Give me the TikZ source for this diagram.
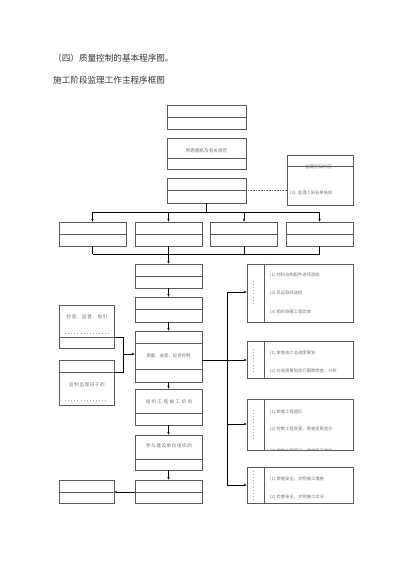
\documentclass[tikz,border=0pt]{standalone}
\usepackage{fontspec}
\setmainfont{Noto Sans CJK SC}
\newfontfamily\cjkwide[LetterSpace=30]{Noto Sans CJK SC}
\newfontfamily\cjkmid[LetterSpace=12]{Noto Sans CJK SC}
\usetikzlibrary{arrows.meta}

\tikzset{
  box/.style={draw=black!65, line width=0.7pt, inner sep=0pt},
  divline/.style={draw=black!65, line width=0.7pt},
  link/.style={draw=black, line width=0.6pt},
  arr/.style={link, -{Stealth[length=2.8pt,width=2.4pt]}},
  dotlink/.style={draw=black!60, line width=0.9pt, dash pattern=on 0.8pt off 0.8pt},
  boxtext/.style={text=black!55, inner sep=0pt, font=\fontsize{4.6}{5}\selectfont},
  listtext/.style={boxtext, anchor=west, font=\fontsize{4.3}{5}\selectfont},
  cuttext/.style={draw=black!35, line width=0.8pt, dash pattern=on 0.9pt off 2.2pt},
  titletext/.style={anchor=west, inner sep=0pt, font=\fontsize{8.6}{10}\selectfont, text=black!80}
}
% split line across a box at height y
\newcommand{\splitat}[2]{\draw[divline] (#1.west |- 0,#2) -- (#1.east |- 0,#2);}

\begin{document}
\begin{tikzpicture}[x=1pt,y=1pt,yscale=-1,xscale=1]
\useasboundingbox (0,0) rectangle (400,566);

% Titles
\node[titletext] (head) at (53,58) {（四）质量控制的基本程序图。};
\node[titletext] (sub) at (53,80) {施工阶段监理工作主程序框图};

% Upper main column
\node[box, minimum width=79, minimum height=24] (start) at (206.5,117) {};
\splitat{start}{117}
\node[box, minimum width=79, minimum height=31] (drawings) at (206.5,153.5) {};
\splitat{drawings}{158}
\node[boxtext] (drawingstext) at (206.5,151) {熟悉图纸及有关规范};
\node[box, minimum width=79, minimum height=25] (notify) at (206.5,190.5) {};
\splitat{notify}{190}

% Notice box on the right
\node[box, minimum width=66, minimum height=50] (notice) at (320,180) {};
\splitat{notice}{166}
\node[boxtext, font=\fontsize{4.4}{5}\selectfont] (noticehead) at (318.5,167) {监理告知内容};
\node[listtext] (noticeitem) at (290,193) {(3). 监理人员名单告知};
\draw[dotlink] (notify.east |- 0,190) -- (notice.west |- 0,190);

% Four parallel boxes
\node[box, minimum width=67, minimum height=24] (pa) at (92.5,234) {};
\node[box, minimum width=67, minimum height=24] (pb) at (168.5,234) {};
\node[box, minimum width=67, minimum height=24] (pc) at (244,234) {};
\node[box, minimum width=67, minimum height=24] (pd) at (319.5,234) {};
\foreach \p in {pa,pb,pc,pd} {\splitat{\p}{234}}

\coordinate (forktop) at (206.5,212);
\draw[link] (notify.south) -- (forktop);
\draw[link] (pa.north |- forktop) -- (pd.north |- forktop);
\foreach \p in {pa,pb,pc,pd} {\draw[arr] (\p.north |- forktop) -- (\p.north);}
\coordinate (forkbot) at (168.5,254);
\foreach \p in {pa,pb,pc,pd} {\draw[link] (\p.south) -- (\p.south |- forkbot);}
\draw[link] (pa.south |- forkbot) -- (pd.south |- forkbot);

% Lower main column
\node[box, minimum width=67, minimum height=24] (la) at (168.5,276) {};
\splitat{la}{276}
\node[box, minimum width=67, minimum height=25] (lb) at (168.5,309.5) {};
\splitat{lb}{309}
\node[box, minimum width=67, minimum height=51] (control) at (168.5,356.5) {};
\splitat{control}{343}
\splitat{control}{369}
\node[boxtext, font=\fontsize{4.4}{5}\selectfont] (controltext) at (168.5,356) {质量、进度、投资控制};
\node[box, minimum width=67, minimum height=36] (check) at (168.5,407) {};
\splitat{check}{413}
\node[boxtext, font=\fontsize{4.6}{5}\cjkwide] (checktext) at (169,401.5) {组织工程竣工初验};
\node[box, minimum width=67, minimum height=35] (accept) at (168.5,452.5) {};
\splitat{accept}{459}
\node[boxtext, font=\fontsize{4.6}{5}\cjkmid] (accepttext) at (169,446) {参与建设单位组织的};
\node[box, minimum width=67, minimum height=23] (final) at (168.5,491.5) {};
\splitat{final}{492}

\draw[arr] (forkbot) -- (la.north);
\draw[arr] (la.south) -- (lb.north);
\draw[arr] (lb.south) -- (control.north);
\draw[arr] (control.south) -- (check.north);
\draw[arr] (check.south) -- (accept.north);
\draw[arr] (accept.south) -- (final.north);

% Left boxes
\node[box, minimum width=55, minimum height=43] (supervise) at (86.5,326.5) {};
\splitat{supervise}{337}
\node[boxtext, font=\fontsize{4.6}{5}\cjkmid] (supervisetext) at (87,317) {检查、监督、指引};
\draw[cuttext] (65,333) -- (109,333);
\node[box, minimum width=55, minimum height=45] (team) at (86.5,382.5) {};
\splitat{team}{372}
\node[boxtext, font=\fontsize{4.6}{5}\cjkmid] (teamtext) at (87,385) {监制监理班子的};
\draw[cuttext] (65,400) -- (108,400);
\node[box, minimum width=55, minimum height=23] (archive) at (86.5,491.5) {};
\splitat{archive}{492}

\coordinate (joinleft) at (123,354);
\draw[link] (supervise.east |- 0,337) -| (joinleft);
\draw[link] (team.east |- 0,372) -| (joinleft);
\draw[arr] (joinleft) -- (control.west |- joinleft);
\draw[arr] (final.west |- 0,492) -- (archive.east |- 0,492);

% Right boxes
\node[box, minimum width=106, minimum height=58] (quality) at (300,293) {};
\node[box, minimum width=106, minimum height=37] (progress) at (300,359.5) {};
\node[box, minimum width=106, minimum height=51] (cost) at (300,424.5) {};
\node[box, minimum width=106, minimum height=36] (safety) at (300,485) {};
\foreach \r in {quality,progress,cost,safety} {
  \draw[divline] (\r.north west) ++(18,0) coordinate (\r-cut) -- (\r-cut |- \r.south);
}
\draw[cuttext] (253,281) -- (253,305);
\draw[cuttext] (253,349) -- (253,371);
\draw[cuttext] (253,410) -- (253,440);
\draw[cuttext] (253,471) -- (253,500);

\node[listtext] (q1) at (270,275) {(1).材料与构配件进场验收};
\node[listtext] (q2) at (270,293) {(2).见证取样送检};
\node[listtext] (q3) at (270,312) {(3).组织隐蔽工程验收};
\node[listtext] (s1) at (270,353) {(1).审查施工总进度筹划};
\node[listtext] (s2) at (270,371) {(2).对进度筹划实行跟踪检查、分析};
\node[listtext] (c1) at (270,412) {(1).审查工程造价};
\node[listtext] (c2) at (270,429) {(2).控制工程变更、审查变更造价};
\begin{scope}
  \clip (cost.north west) rectangle (cost.south east);
  \node[listtext] (c3) at (270,450.6) {(3).控制工程签证、审查签证造价};
\end{scope}
\node[listtext] (a1) at (270,479) {(1).审查安全、文明施工措施};
\node[listtext] (a2) at (270,497) {(2).检查安全、文明施工状况};

% Bus to the right boxes
\coordinate (bustop) at (227,292);
\coordinate (busbot) at (227,485);
\draw[link] (control.east |- 0,360) -- (227,360);
\draw[link] (bustop) -- (busbot);
\draw[arr] (bustop) -- (quality.west |- bustop);
\draw[arr] (227,360) -- (progress.west |- 0,360);
\draw[arr] (227,424) -- (cost.west |- 0,424);
\draw[arr] (busbot) -- (safety.west |- busbot);

\end{tikzpicture}
\end{document}
